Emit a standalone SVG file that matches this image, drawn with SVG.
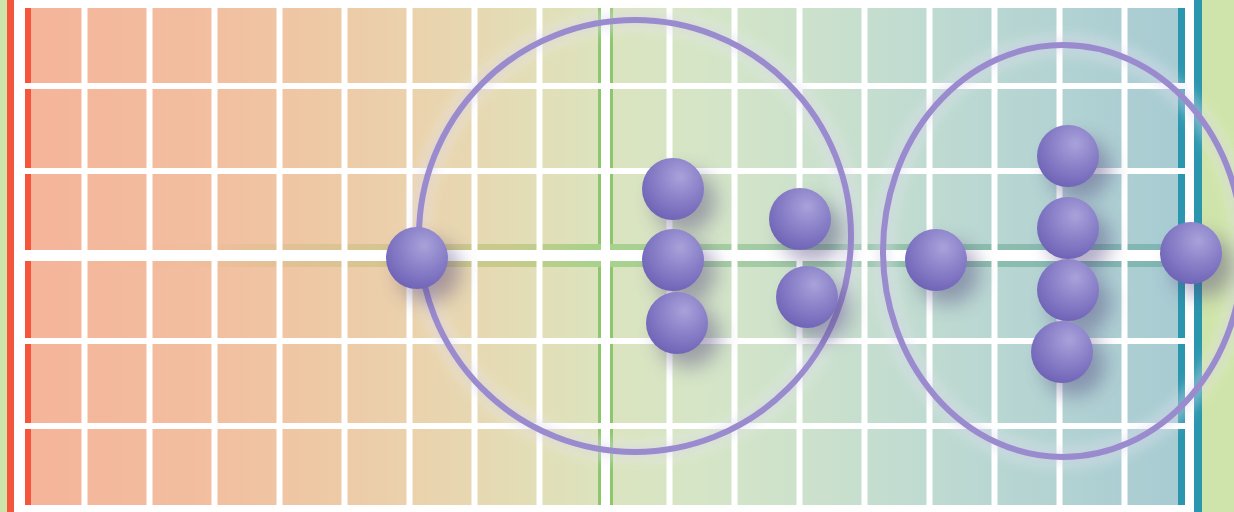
<svg xmlns="http://www.w3.org/2000/svg" width="1234" height="512" viewBox="0 0 1234 512">
  <defs>
    <linearGradient id="cellGrad" gradientUnits="userSpaceOnUse" x1="25" y1="0" x2="1185" y2="0">
      <stop offset="0" stop-color="#f5b49a"/>
      <stop offset="0.15" stop-color="#f2be9f"/>
      <stop offset="0.26" stop-color="#eec9a6"/>
      <stop offset="0.35" stop-color="#e9d4ae"/>
      <stop offset="0.43" stop-color="#e3ddb6"/>
      <stop offset="0.49" stop-color="#dce3bd"/>
      <stop offset="0.58" stop-color="#d5e5c6"/>
      <stop offset="0.67" stop-color="#cde2cc"/>
      <stop offset="0.75" stop-color="#c2dcd0"/>
      <stop offset="0.84" stop-color="#b8d6d2"/>
      <stop offset="1" stop-color="#a7cbd3"/>
    </linearGradient>
    <linearGradient id="stripeGrad" gradientUnits="userSpaceOnUse" x1="25" y1="0" x2="1185" y2="0">
      <stop offset="0" stop-color="#f5b49a"/>
      <stop offset="0.14" stop-color="#f1bd9c"/>
      <stop offset="0.24" stop-color="#dfc294"/>
      <stop offset="0.34" stop-color="#d2c68e"/>
      <stop offset="0.42" stop-color="#c6cb8c"/>
      <stop offset="0.49" stop-color="#a8d28a"/>
      <stop offset="0.6" stop-color="#a6cea2"/>
      <stop offset="0.75" stop-color="#93c2aa"/>
      <stop offset="1" stop-color="#7eb5b4"/>
    </linearGradient>
    <radialGradient id="ball" cx="0.6" cy="0.32" r="0.75" fx="0.62" fy="0.3">
      <stop offset="0" stop-color="#a8a2da"/>
      <stop offset="0.45" stop-color="#8c83ca"/>
      <stop offset="1" stop-color="#6c5fb4"/>
    </radialGradient>
    <filter id="blurShadow" x="-1" y="-1" width="3" height="3">
      <feGaussianBlur stdDeviation="10"/>
    </filter>
    <filter id="glow" x="-0.2" y="-0.2" width="1.4" height="1.4">
      <feGaussianBlur stdDeviation="6"/>
    </filter>
  </defs>
  <style>
    .gridv { fill: #ffffff; }
    .ringGlow { fill: none; stroke: #ffffff; stroke-width: 20; opacity: 0.35; filter: url(#glow); }
    .ringHaze { fill: none; stroke: #8a7cc4; stroke-width: 10; opacity: 0.2; filter: url(#glow); }
    .ring { fill: none; stroke: #9a8bcf; stroke-width: 6; }
    .shadow { fill: #4b3d7a; opacity: 0.42; filter: url(#blurShadow); }
    .sphere { fill: url(#ball); }
  </style>

  <!-- background -->
  <rect x="0" y="0" width="1234" height="512" fill="#cfe4aa"/>
  <rect x="7" y="0" width="7" height="512" fill="#f4553b"/>
  <rect x="14" y="0" width="1180" height="512" fill="#ffffff"/>
  <rect x="1194" y="0" width="8" height="512" fill="#2b97ae"/>
  <rect x="25" y="8" width="1160" height="497" fill="url(#cellGrad)"/>

  <!-- axis stripes -->
  <rect x="25" y="8" width="6" height="497" fill="#f4553b"/>
  <rect x="1178" y="8" width="7" height="497" fill="#2b97ae"/>
  <rect x="598" y="8" width="15" height="497" fill="#8cc76e"/>
  <rect x="31" y="244" width="1147" height="23" fill="url(#stripeGrad)"/>

  <!-- white grid lines -->
  <g id="grid" class="gridv">
    <rect x="14" y="83" width="1180" height="6"/>
    <rect x="14" y="168" width="1180" height="6"/>
    <rect x="14" y="250" width="1180" height="11"/>
    <rect x="14" y="338" width="1180" height="6"/>
    <rect x="14" y="423" width="1180" height="6"/>
    <rect x="81.5" y="0" width="6" height="512"/>
    <rect x="146.5" y="0" width="6" height="512"/>
    <rect x="211.5" y="0" width="6" height="512"/>
    <rect x="276.5" y="0" width="6" height="512"/>
    <rect x="341.5" y="0" width="6" height="512"/>
    <rect x="406.5" y="0" width="6" height="512"/>
    <rect x="471.5" y="0" width="6" height="512"/>
    <rect x="536.5" y="0" width="6" height="512"/>
    <rect x="601" y="0" width="9" height="512"/>
    <rect x="666.5" y="0" width="6" height="512"/>
    <rect x="731.5" y="0" width="6" height="512"/>
    <rect x="796.5" y="0" width="6" height="512"/>
    <rect x="861.5" y="0" width="6" height="512"/>
    <rect x="926.5" y="0" width="6" height="512"/>
    <rect x="991.5" y="0" width="6" height="512"/>
    <rect x="1056.5" y="0" width="6" height="512"/>
    <rect x="1121.5" y="0" width="6" height="512"/>
  </g>

  <!-- rings -->
  <g id="ring-left">
    <circle class="ringGlow" cx="635" cy="236" r="216"/>
    <circle class="ringHaze" cx="635" cy="236" r="216"/>
    <circle class="ring" cx="635" cy="236" r="216"/>
  </g>
  <g id="ring-right">
    <ellipse class="ringGlow" cx="1063" cy="251" rx="180" ry="206"/>
    <ellipse class="ringHaze" cx="1063" cy="251" rx="180" ry="206"/>
    <ellipse class="ring" cx="1063" cy="251" rx="180" ry="206"/>
  </g>

  <!-- spheres -->
  <g id="sphere-1"><circle class="shadow" cx="429" cy="271" r="31"/><circle class="sphere" cx="417" cy="258" r="31"/></g>
  <g id="sphere-2"><circle class="shadow" cx="685" cy="202" r="31"/><circle class="sphere" cx="673" cy="189" r="31"/></g>
  <g id="sphere-3"><circle class="shadow" cx="685" cy="273" r="31"/><circle class="sphere" cx="673" cy="260" r="31"/></g>
  <g id="sphere-4"><circle class="shadow" cx="689" cy="336" r="31"/><circle class="sphere" cx="677" cy="323" r="31"/></g>
  <g id="sphere-5"><circle class="shadow" cx="812" cy="232" r="31"/><circle class="sphere" cx="800" cy="219" r="31"/></g>
  <g id="sphere-6"><circle class="shadow" cx="819" cy="310" r="31"/><circle class="sphere" cx="807" cy="297" r="31"/></g>
  <g id="sphere-7"><circle class="shadow" cx="948" cy="273" r="31"/><circle class="sphere" cx="936" cy="260" r="31"/></g>
  <g id="sphere-8"><circle class="shadow" cx="1080" cy="169" r="31"/><circle class="sphere" cx="1068" cy="156" r="31"/></g>
  <g id="sphere-9"><circle class="shadow" cx="1080" cy="241" r="31"/><circle class="sphere" cx="1068" cy="228" r="31"/></g>
  <g id="sphere-10"><circle class="shadow" cx="1080" cy="303" r="31"/><circle class="sphere" cx="1068" cy="290" r="31"/></g>
  <g id="sphere-11"><circle class="shadow" cx="1074" cy="365" r="31"/><circle class="sphere" cx="1062" cy="352" r="31"/></g>
  <g id="sphere-12"><circle class="shadow" cx="1203" cy="266" r="31"/><circle class="sphere" cx="1191" cy="253" r="31"/></g>

  <g id="connectors"/>
</svg>
